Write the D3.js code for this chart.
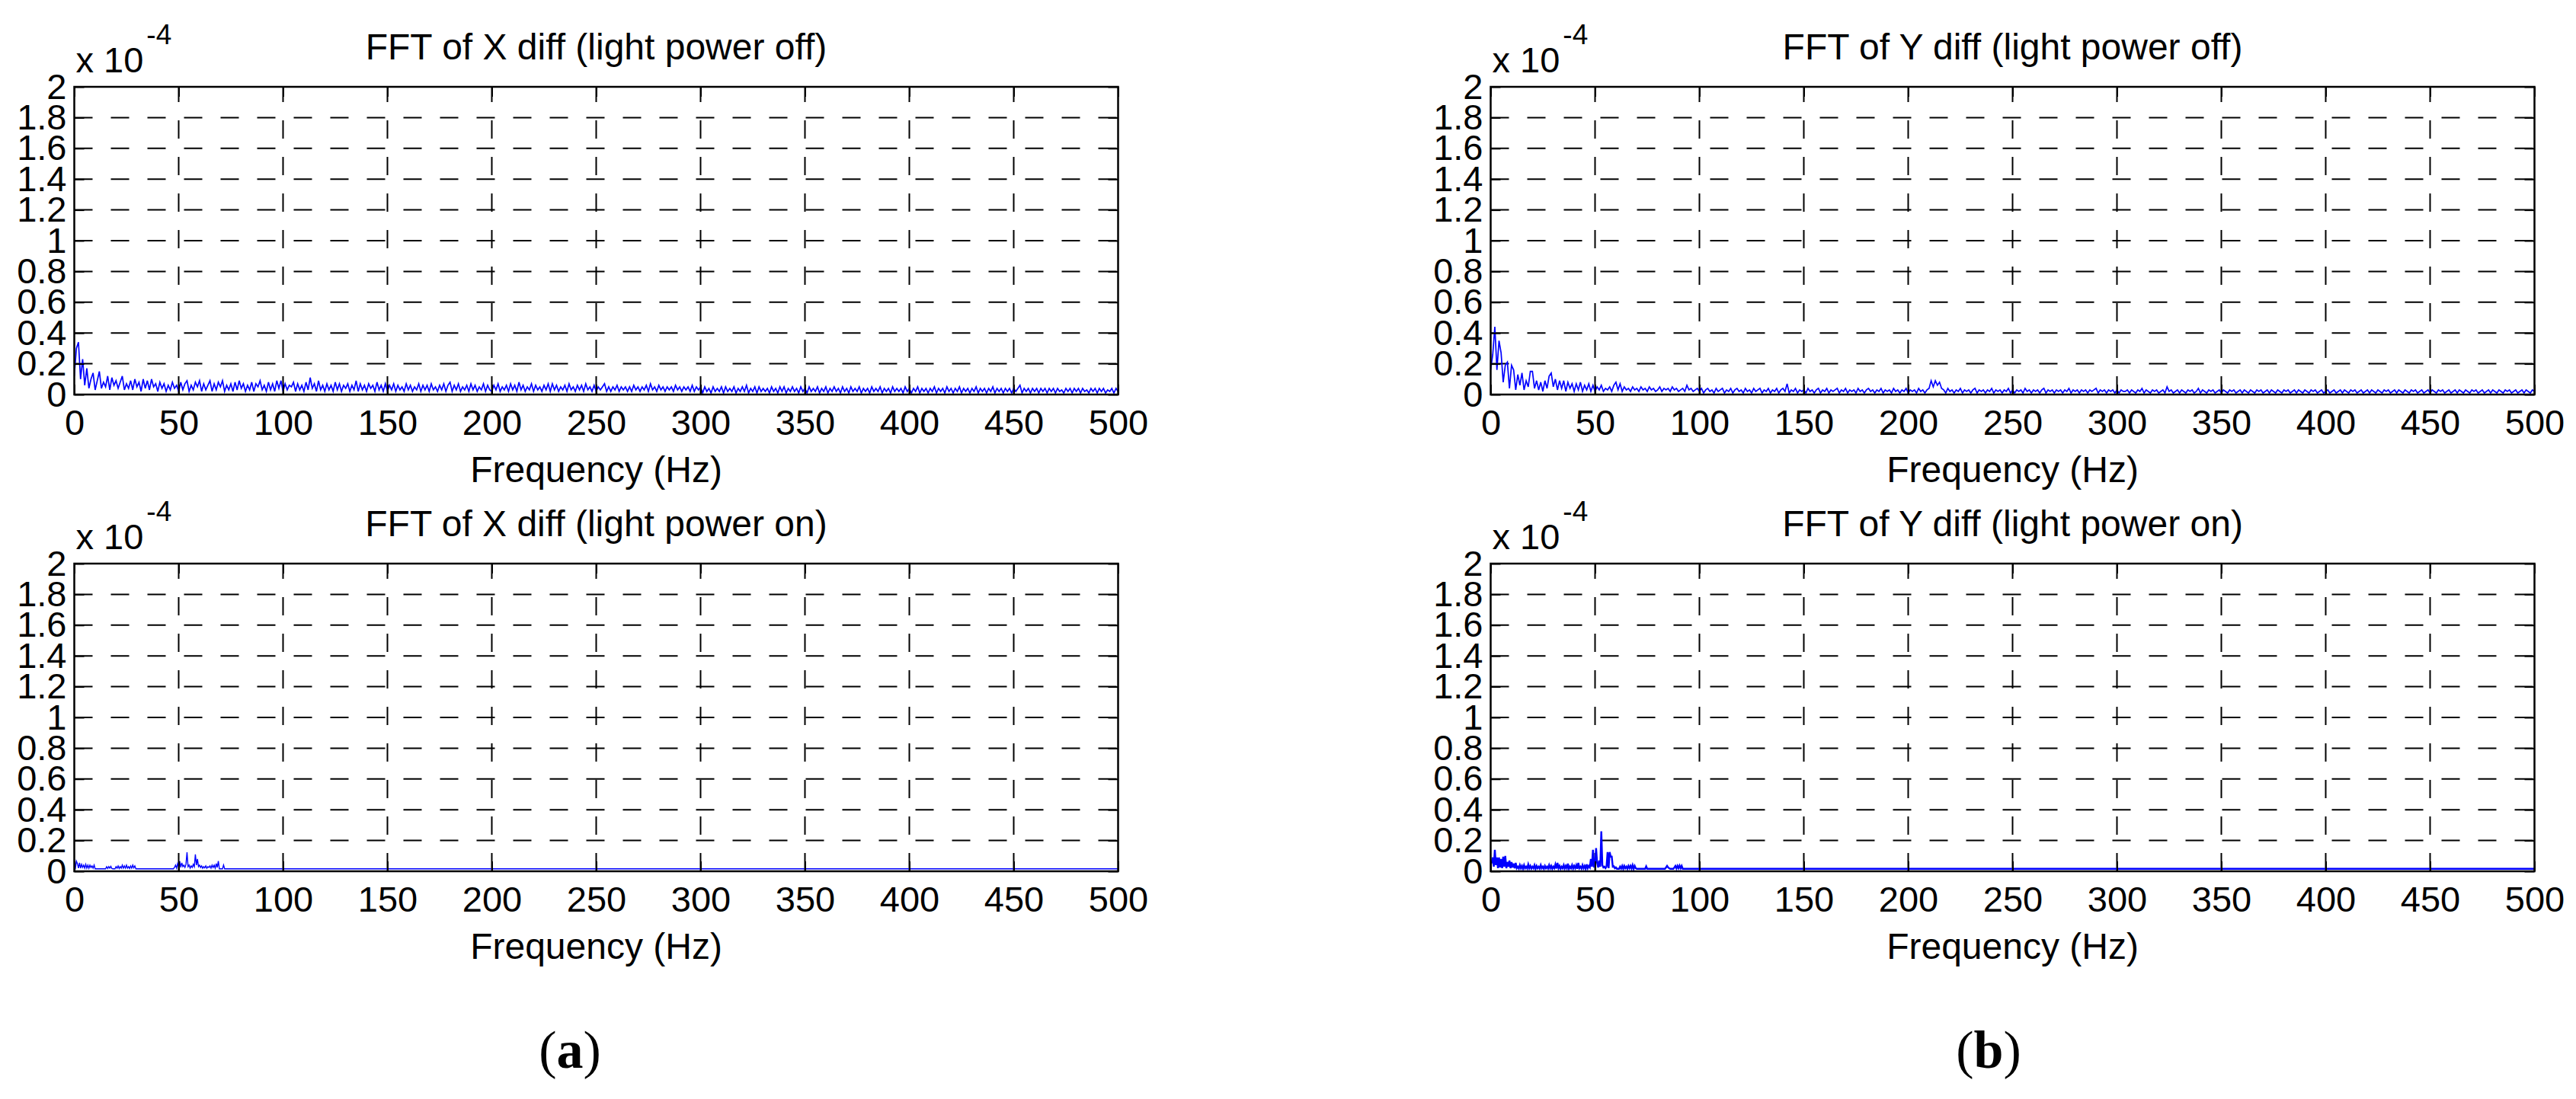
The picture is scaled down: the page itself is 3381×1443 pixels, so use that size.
<!DOCTYPE html>
<html>
<head>
<meta charset="utf-8">
<script src="https://cdn.jsdelivr.net/npm/d3@7"></script>
<style>
  html, body { margin: 0; padding: 0; background: #fff; }
  svg { display: block; }
</style>
</head>
<body>
<div id="chart"></div>
<script>
// FFT amplitude spectra, values in units of 1e-6 (axis shows x 10^-4)
var titles = [
  "FFT of X diff (light power off)",
  "FFT of Y diff (light power off)",
  "FFT of X diff (light power on)",
  "FFT of Y diff (light power on)"
];
var xTicks = [0, 50, 100, 150, 200, 250, 300, 350, 400, 450, 500];
var yTicks = [0, 0.2, 0.4, 0.6, 0.8, 1, 1.2, 1.4, 1.6, 1.8, 2];
var subLabels = ["a", "b"];

// 1 Hz bins, 0..500 Hz
var xOffAmp = [
  12,30,34,10,23,6,17,4,10,14,3,9,15,4,8,5,12,3,11,6,9,4,8,12,3,7,4,9,3,10,5,8,2,10,4,9,3,10,5,7,2,8,4,7,2,6,3,8,4,6,
  2,8,3,7,9,2,6,3,8,5,9,2,7,3,6,9,2,7,3,8,5,9,2,6,3,7,2,8,3,9,4,7,2,6,3,8,2,7,5,9,3,6,2,8,3,7,2,9,4,9,
  2,7,3,6,5,8,2,7,3,6,2,8,3,11,4,7,2,9,3,6,2,7,3,6,2,8,3,7,2,6,4,7,2,6,3,9,2,7,3,6,2,7,4,6,2,8,3,6,2,7,
  2,6,3,7,2,6,3,5,2,7,3,6,2,5,3,7,2,6,3,6,2,7,3,5,2,6,3,7,2,6,8,2,6,3,7,2,5,3,6,2,7,3,6,2,5,3,7,2,6,3,
  2,6,3,7,2,5,3,6,2,7,3,6,2,8,3,6,2,5,3,7,2,6,3,5,2,6,3,7,2,7,3,6,2,5,3,6,2,7,3,5,2,6,3,6,2,7,3,5,2,6,
  2,5,3,5,7,2,5,2,5,3,6,2,5,3,5,2,5,2,6,3,5,2,5,3,6,2,7,3,5,2,6,3,5,2,5,3,5,2,6,3,5,2,5,3,5,2,6,2,5,3,
  5,1,5,2,4,1,5,2,4,2,5,1,5,2,4,2,5,1,4,2,5,2,6,1,4,2,5,1,5,2,4,2,4,1,5,2,4,1,5,2,5,1,4,2,5,2,4,1,5,2,
  4,1,5,2,4,2,5,1,4,2,5,1,4,2,5,2,4,1,5,2,4,1,5,2,4,2,5,1,4,2,4,1,5,2,4,2,5,1,4,2,4,1,5,2,4,2,4,1,5,2,
  4,1,4,2,5,1,4,2,4,1,4,2,5,1,4,2,4,1,5,2,4,1,4,2,5,1,4,2,4,1,4,2,5,1,4,2,4,1,4,2,5,1,4,2,4,1,4,2,4,1,
  4,2,4,6,1,4,2,4,1,4,2,4,1,4,2,4,1,4,2,4,1,4,2,3,1,4,2,4,1,4,2,4,1,4,2,3,1,4,2,4,1,4,2,4,1,3,2,4,1,4,2
];

// 1 Hz bins, 0..500 Hz
var yOffAmp = [
  16,26,44,16,35,27,8,19,21,4,19,16,3,13,6,14,3,9,5,15,15,4,9,3,8,2,9,4,12,14,5,10,3,9,4,9,2,8,4,7,2,7,3,8,2,6,3,7,2,6,
  2,5,3,6,2,4,3,5,2,6,8,3,7,2,5,3,4,2,5,3,4,2,5,3,4,2,5,3,4,2,3,5,2,4,3,4,2,5,3,4,2,3,4,2,6,3,4,2,3,4,
  2,4,1,3,4,2,3,1,4,2,3,4,1,3,2,4,1,3,4,2,3,1,4,2,3,1,4,2,3,4,1,3,2,4,1,3,2,4,1,3,4,2,7,1,3,2,4,1,3,2,
  3,1,4,2,3,1,3,4,1,3,2,4,1,3,2,3,4,1,3,2,4,1,3,2,3,1,4,2,3,1,3,4,2,3,1,3,2,4,1,3,2,3,1,4,2,3,1,3,2,4,
  1,3,2,3,1,4,2,3,1,3,4,9,5,9,6,8,4,3,1,4,2,3,1,3,2,4,1,3,2,3,1,3,4,1,3,2,3,1,3,2,4,1,3,2,3,1,3,2,4,1,
  3,1,3,2,3,1,4,2,3,1,3,2,3,1,3,4,1,3,2,3,1,3,2,3,1,3,2,4,1,3,2,3,1,3,2,3,1,3,2,3,4,1,3,2,3,1,3,2,3,1,
  3,1,3,2,2,3,1,3,2,1,3,2,4,1,3,2,1,3,2,3,1,2,3,1,5,2,3,1,2,3,1,3,2,1,3,2,3,1,2,4,1,3,2,1,3,2,3,1,2,3,
  1,3,2,1,3,2,3,1,2,3,1,3,2,1,3,2,1,3,2,3,1,2,3,1,3,2,1,3,2,1,3,2,3,1,2,3,1,3,2,1,3,2,1,3,2,3,1,2,3,1,
  2,3,1,2,3,1,2,3,1,3,2,1,3,2,3,1,2,3,1,2,3,1,3,2,1,3,2,1,3,2,3,1,2,3,1,3,2,1,3,2,1,3,2,3,1,2,3,1,2,3,
  1,3,2,1,3,2,3,1,2,3,1,2,3,1,3,2,1,3,2,1,3,2,3,1,2,3,1,2,3,1,3,2,1,3,2,1,3,2,3,1,2,3,1,2,3,1,3,2,1,3,2
];

// 0.5 Hz bins, 0..72 Hz; flat floor after that
var xOnAmp = [
  1.6,1.6,
  6.6,5,2,5.5,2,4.5,2.5,4,2,4.5,2,4,2,4,2.5,3.5,2,4,
  1.6,1.6,1.6,1.6,1.6,1.6,1.6,1.6,1.6,1.6,1.6,
  3,1.8,3,2,3.2,1.8,
  1.6,1.6,1.6,
  3,2,3.5,1.8,3,2,4,2,3.5,2,4,2,3,1.8,3.5,2,4,2.2,3.5,
  1.6,1.6,1.6,1.6,1.6,1.6,1.6,1.6,1.6,1.6,1.6,1.6,1.6,1.6,1.6,1.6,1.6,1.6,1.6,1.6,
  1.6,1.6,1.6,1.6,1.6,1.6,1.6,1.6,1.6,1.6,1.6,1.6,1.6,1.6,1.6,1.6,1.6,
  2.5,4,2,5,3,6.6,2.5,5.5,3,4,2.5,4.5,12.3,3,4,2,3.5,2.5,4.5,3,11,4,8,3,4,2.5,3.5,2,3,2.2,
  3.5,2,3,2.5,3.5,2,4,2.5,4,2,5,2.5,6.6,1.6,1.6,1.6,1.6,4,1.6
];

// 0.5 Hz bins, 0..92 Hz; flat floor after that
var yOnAmp = [
  4,6,9,3,14,4,9,2,9,2.5,8,2,9.5,3,10,2,6,3,7,2,6,2.5,5,2,5.5,2,
  3,1.8,4,2,3.5,1.6,4,2,3,1.8,
  4.5,2,3.5,1.8,3,2,4,1.6,3.5,2,
  3,1.8,4,2,3,1.6,3.5,2,3,1.8,
  4,2,3.5,1.6,3,2,4.5,1.8,5.5,2,
  3.5,1.6,3,2,4,1.8,3.5,2,5,1.6,
  3,2,4,1.8,3.5,2,4,1.6,5.5,2,
  3,1.8,4,2,3.5,1.6,4.5,2,3.5,2.5,
  8,3,14,2.5,5,15,5.5,2.5,7,3,26,4,2.5,3,2,3,12.5,2,12.5,9.5,9.5,3,3.2,2,2.5,1.6,
  1.6,1.6,3,1.8,3.5,1.6,3.5,2,3,1.6,3.5,2,3.5,1.8,4,1.6,3.5,2,
  1.6,1.6,1.6,1.6,1.6,1.6,1.6,1.6,1.6,3.2,1.6,
  1.6,1.6,1.6,1.6,1.6,1.6,1.6,1.6,1.6,1.6,1.6,1.6,1.6,1.6,1.6,1.6,1.6,
  2.5,3.5,2.5,2,1.6,1.6,1.6,1.6,2.5,3.5,1.8,3.5,2,3.7,2,3.5,
  1.6
];

var width = 3381, height = 1443;
var font = "'Liberation Sans', Arial, Helvetica, sans-serif";
var colLeft = [97.5, 1956.5];
var rowTop = [114, 740];
var plotW = 1370, plotH = 404;

var panels = [
  { title: titles[0], amp: xOffAmp, step: 1, col: 0, row: 0, lw: 1.7 },
  { title: titles[1], amp: yOffAmp, step: 1, col: 1, row: 0, lw: 1.7 },
  { title: titles[2], amp: xOnAmp, step: 0.5, col: 0, row: 1, lw: 1.4 },
  { title: titles[3], amp: yOnAmp, step: 0.5, col: 1, row: 1, lw: 2.4 }
];

var svg = d3.select("#chart").append("svg")
  .attr("width", width)
  .attr("height", height)
  .style("font-family", font);

svg.append("rect").attr("width", width).attr("height", height).attr("fill", "#fff");

panels.forEach(function (p, k) {
  var x0 = colLeft[p.col], y0 = rowTop[p.row];
  var x = d3.scaleLinear().domain([0, 500]).range([x0, x0 + plotW]);
  var y = d3.scaleLinear().domain([0, 2]).range([y0 + plotH, y0]);
  var g = svg.append("g");

  // dashed grid (vertical dashes start at the bottom, horizontal at the left)
  g.selectAll(".vgrid").data(xTicks.slice(1, -1)).enter().append("line")
    .attr("x1", d => x(d)).attr("x2", d => x(d))
    .attr("y1", y(0)).attr("y2", y(2))
    .attr("stroke", "#000").attr("stroke-width", 2)
    .attr("stroke-dasharray", "24,24");
  g.selectAll(".hgrid").data(yTicks.slice(1, -1)).enter().append("line")
    .attr("x1", x(0)).attr("x2", x(500))
    .attr("y1", d => y(d)).attr("y2", d => y(d))
    .attr("stroke", "#000").attr("stroke-width", 2)
    .attr("stroke-dasharray", "24,24");

  // spectrum
  var pts = p.amp.map((v, i) => [i * p.step, v / 100]);
  var last = pts[pts.length - 1];
  if (last[0] < 500) pts.push([500, last[1]]);
  g.append("clipPath").attr("id", "clip" + k)
    .append("rect").attr("x", x0).attr("y", y0).attr("width", plotW).attr("height", plotH);
  g.append("path")
    .datum(pts)
    .attr("clip-path", "url(#clip" + k + ")")
    .attr("fill", "none")
    .attr("stroke", "#0000ff")
    .attr("stroke-width", p.lw)
    .attr("d", d3.line().x(d => x(d[0])).y(d => y(d[1])));

  // axes with inward ticks
  var fmt = d3.format("~g");
  var ax = g.append("g").attr("transform", "translate(0," + y(0) + ")")
    .call(d3.axisBottom(x).tickValues(xTicks).tickSize(-13).tickPadding(20).tickFormat(fmt));
  var ay = g.append("g").attr("transform", "translate(" + x(0) + ",0)")
    .call(d3.axisLeft(y).tickValues(yTicks).tickSize(-13).tickPadding(10).tickFormat(fmt));
  var axT = g.append("g").attr("transform", "translate(0," + y(2) + ")")
    .call(d3.axisTop(x).tickValues(xTicks).tickSize(-13).tickFormat(""));
  var ayR = g.append("g").attr("transform", "translate(" + x(500) + ",0)")
    .call(d3.axisRight(y).tickValues(yTicks).tickSize(-13).tickFormat(""));
  [ax, ay, axT, ayR].forEach(function (a) {
    a.select(".domain").remove();
    a.selectAll(".tick line").attr("stroke", "#000").attr("stroke-width", 2);
    a.selectAll(".tick text").attr("fill", "#000").style("font-size", "47px").style("font-family", font);
  });

  g.append("rect")
    .attr("x", x0).attr("y", y0).attr("width", plotW).attr("height", plotH)
    .attr("fill", "none").attr("stroke", "#000").attr("stroke-width", 2.5);

  // exponent label
  var ex = g.append("text").attr("x", x0 + 2).attr("y", y0 - 19)
    .attr("fill", "#000").style("font-size", "47px");
  ex.append("tspan").text("x 10");
  ex.append("tspan").attr("dx", 4).attr("dy", -37).style("font-size", "37px").text("-4");

  g.append("text")
    .attr("x", x0 + plotW / 2).attr("y", y0 - 36)
    .attr("text-anchor", "middle").attr("fill", "#000")
    .style("font-size", "48px")
    .text(p.title);

  g.append("text")
    .attr("x", x0 + plotW / 2).attr("y", y0 + plotH + 115)
    .attr("text-anchor", "middle").attr("fill", "#000")
    .style("font-size", "48px")
    .text("Frequency (Hz)");
});

// (a) / (b) sub-figure labels
var subX = [748, 2610];
subLabels.forEach(function (s, i) {
  var t = svg.append("text")
    .attr("x", subX[i]).attr("y", 1402)
    .attr("text-anchor", "middle").attr("fill", "#000")
    .style("font-family", "'Liberation Serif', 'Times New Roman', serif")
    .style("font-size", "70px");
  t.append("tspan").text("(");
  t.append("tspan").style("font-weight", "bold").text(s);
  t.append("tspan").text(")");
});
</script>
</body>
</html>
